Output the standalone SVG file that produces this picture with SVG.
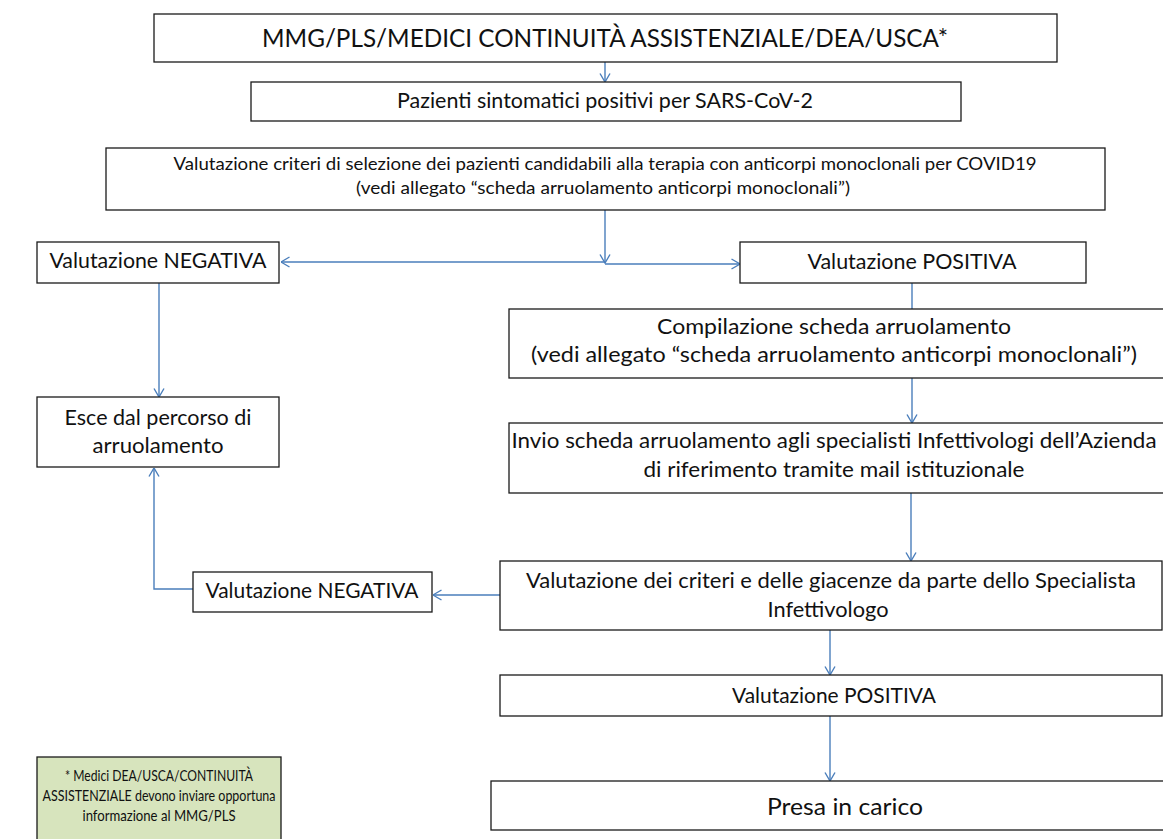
<svg xmlns="http://www.w3.org/2000/svg" width="1163" height="839" viewBox="0 0 1163 839">
<style>
.box{fill:#fff;stroke:#1a1a1a;stroke-width:1.3}
.note{fill:#d7e4bd;stroke:#1a1a1a;stroke-width:1.3}
.t{font-family:Lato,"Liberation Sans",sans-serif;fill:#111;text-anchor:middle}
.conn{fill:none;stroke:#4a7ebb;stroke-width:1.4}
</style>
<defs>
<marker id="arr" viewBox="0 0 10 12" refX="9.5" refY="6" markerWidth="10" markerHeight="12" markerUnits="userSpaceOnUse" orient="auto">
<path d="M1,1 L9.5,6 L1,11" fill="none" stroke="#4a7ebb" stroke-width="1.4"/>
</marker>
</defs>
<rect width="1163" height="839" fill="#fff"/>

<g id="connectors">
<line class="conn" x1="605" y1="62" x2="605" y2="82" marker-end="url(#arr)"/>
<line class="conn" x1="605" y1="210" x2="605" y2="263" marker-end="url(#arr)"/>
<polyline class="conn" points="605,262 281,262" marker-end="url(#arr)"/>
<polyline class="conn" points="605,264 740,264" marker-end="url(#arr)"/>
<line class="conn" x1="159" y1="283" x2="159" y2="397" marker-end="url(#arr)"/>
<line class="conn" x1="912" y1="283" x2="912" y2="309"/>
<line class="conn" x1="912" y1="378" x2="912" y2="423" marker-end="url(#arr)"/>
<line class="conn" x1="911" y1="493" x2="911" y2="561" marker-end="url(#arr)"/>
<line class="conn" x1="500" y1="595" x2="433" y2="595" marker-end="url(#arr)"/>
<polyline class="conn" points="193,589 154,589 154,468" marker-end="url(#arr)"/>
<line class="conn" x1="830" y1="630" x2="830" y2="675" marker-end="url(#arr)"/>
<line class="conn" x1="830" y1="716" x2="830" y2="781" marker-end="url(#arr)"/>
</g>

<g id="n1">
<rect class="box" x="154" y="14" width="903" height="48"/>
<text class="t" x="605" y="47" font-size="25" textLength="686" lengthAdjust="spacingAndGlyphs">MMG/PLS/MEDICI CONTINUITÀ ASSISTENZIALE/DEA/USCA*</text>
</g>
<g id="n2">
<rect class="box" x="251" y="82" width="710" height="39"/>
<text class="t" x="605" y="108" font-size="21" textLength="416" lengthAdjust="spacingAndGlyphs">Pazienti sintomatici positivi per SARS-CoV-2</text>
</g>
<g id="n3">
<rect class="box" x="106" y="148" width="999" height="62"/>
<text class="t" x="605" y="170" font-size="18" textLength="863" lengthAdjust="spacingAndGlyphs">Valutazione criteri di selezione dei pazienti candidabili alla terapia con anticorpi monoclonali per COVID19</text>
<text class="t" x="603" y="194" font-size="18" textLength="494" lengthAdjust="spacingAndGlyphs">(vedi allegato “scheda arruolamento anticorpi monoclonali”)</text>
</g>
<g id="n4">
<rect class="box" x="37" y="242" width="242" height="41"/>
<text class="t" x="158" y="268" font-size="21" textLength="217" lengthAdjust="spacingAndGlyphs">Valutazione NEGATIVA</text>
</g>
<g id="n5">
<rect class="box" x="740" y="242" width="346" height="41"/>
<text class="t" x="912" y="269" font-size="21" textLength="209" lengthAdjust="spacingAndGlyphs">Valutazione POSITIVA</text>
</g>
<g id="n6">
<rect class="box" x="509" y="309" width="665" height="69"/>
<text class="t" x="834" y="334" font-size="22" textLength="354" lengthAdjust="spacingAndGlyphs">Compilazione scheda arruolamento</text>
<text class="t" x="834" y="362" font-size="22" textLength="606" lengthAdjust="spacingAndGlyphs">(vedi allegato “scheda arruolamento anticorpi monoclonali”)</text>
</g>
<g id="n7">
<rect class="box" x="509" y="423" width="665" height="70"/>
<text class="t" x="834" y="448" font-size="21.5" textLength="645" lengthAdjust="spacingAndGlyphs">Invio scheda arruolamento agli specialisti Infettivologi dell’Azienda</text>
<text class="t" x="834" y="477" font-size="21.5" textLength="381" lengthAdjust="spacingAndGlyphs">di riferimento tramite mail istituzionale</text>
</g>
<g id="n8">
<rect class="box" x="37" y="397" width="242" height="70"/>
<text class="t" x="158" y="425" font-size="21" textLength="187" lengthAdjust="spacingAndGlyphs">Esce dal percorso di</text>
<text class="t" x="158" y="453" font-size="21" textLength="131" lengthAdjust="spacingAndGlyphs">arruolamento</text>
</g>
<g id="n9">
<rect class="box" x="193" y="572" width="239" height="40"/>
<text class="t" x="312" y="598" font-size="20.5" textLength="213" lengthAdjust="spacingAndGlyphs">Valutazione NEGATIVA</text>
</g>
<g id="n10">
<rect class="box" x="500" y="561" width="662" height="69"/>
<text class="t" x="831" y="588" font-size="21" textLength="610" lengthAdjust="spacingAndGlyphs">Valutazione dei criteri e delle giacenze da parte dello Specialista</text>
<text class="t" x="828" y="617" font-size="21" textLength="121" lengthAdjust="spacingAndGlyphs">Infettivologo</text>
</g>
<g id="n11">
<rect class="box" x="500" y="675" width="662" height="41"/>
<text class="t" x="834" y="703" font-size="20.5" textLength="204" lengthAdjust="spacingAndGlyphs">Valutazione POSITIVA</text>
</g>
<g id="n12">
<rect class="box" x="491" y="781" width="680" height="49"/>
<text class="t" x="845" y="815" font-size="24" textLength="156" lengthAdjust="spacingAndGlyphs">Presa in carico</text>
</g>
<g id="note">
<rect class="note" x="37" y="757" width="244" height="90"/>
<text class="t" x="159" y="781" font-size="15" textLength="188" lengthAdjust="spacingAndGlyphs">* Medici DEA/USCA/CONTINUITÀ</text>
<text class="t" x="159" y="801" font-size="15" textLength="233" lengthAdjust="spacingAndGlyphs">ASSISTENZIALE devono inviare opportuna</text>
<text class="t" x="159" y="821" font-size="15" textLength="153" lengthAdjust="spacingAndGlyphs">informazione al MMG/PLS</text>
</g>
</svg>
